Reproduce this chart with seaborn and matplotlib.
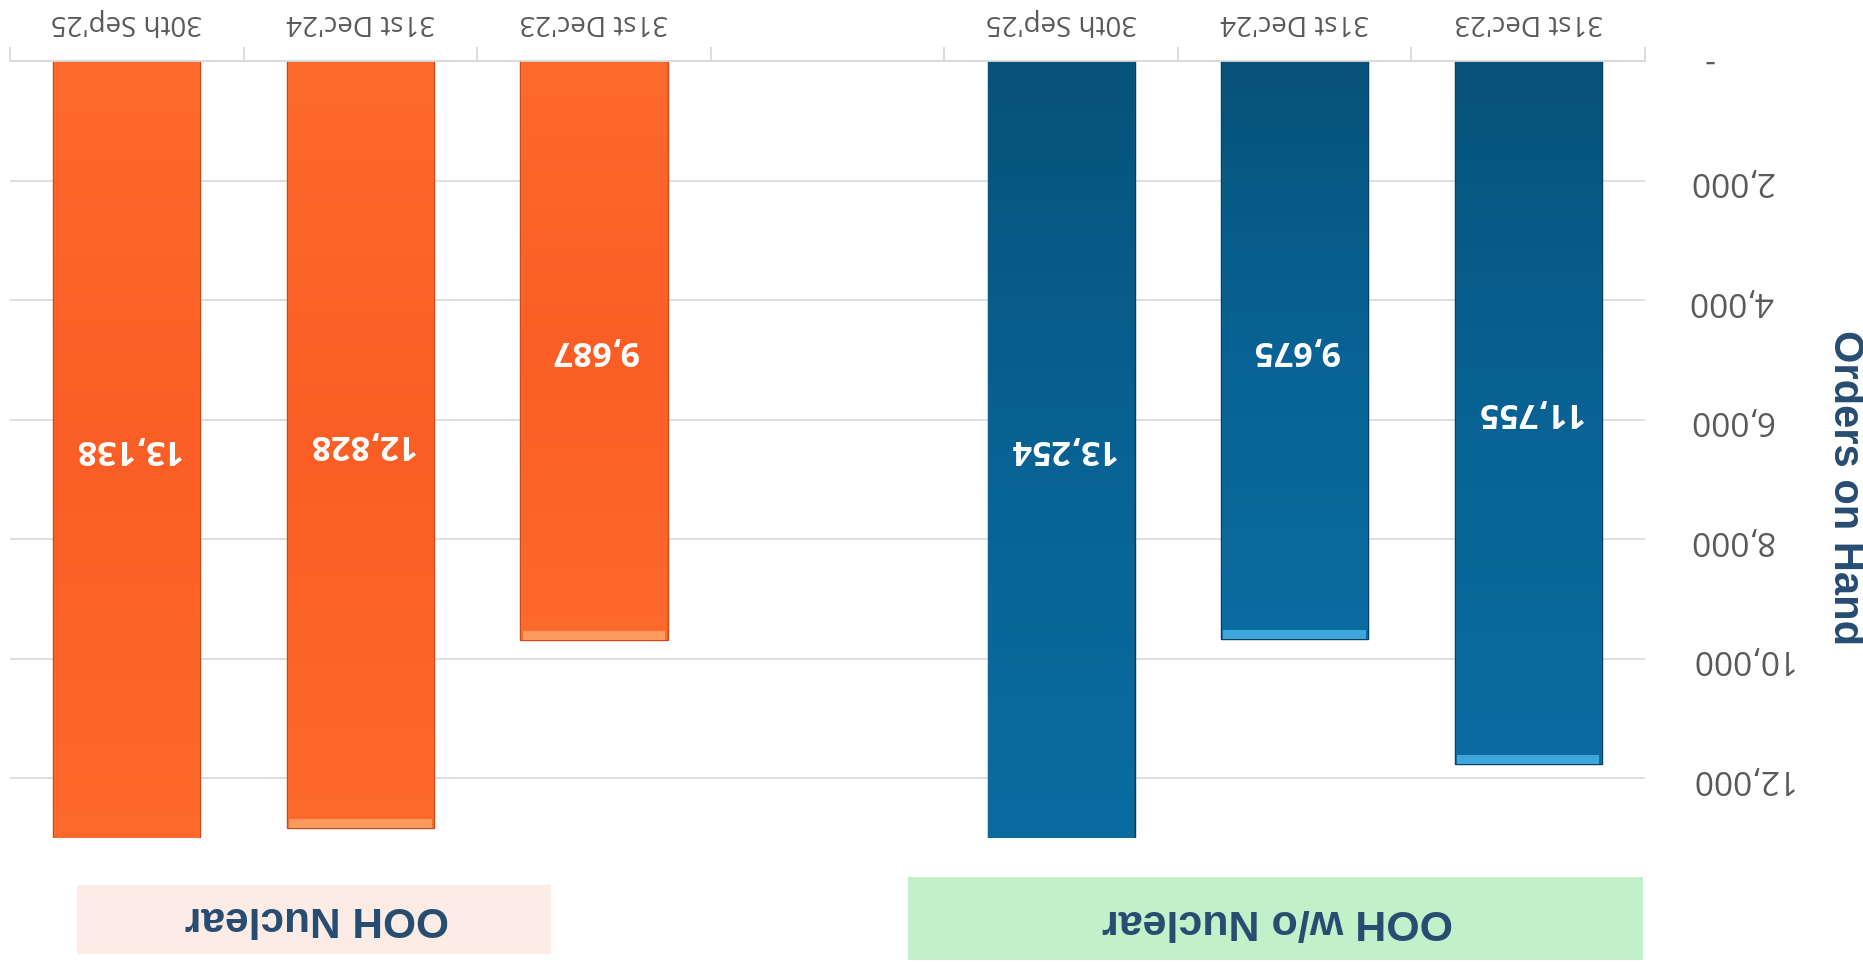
import numpy as np
import pandas as pd
import seaborn as sns
import matplotlib.pyplot as plt
from matplotlib.colors import LinearSegmentedColormap
from matplotlib.patches import Rectangle

# --- data ---
periods = ["31st Dec'23", "31st Dec'24", "30th Sep'25"]
groups = ["OOH w/o Nuclear", "OOH Nuclear"]
ooh_wo_nuclear = [11755, 9675, 13254]
ooh_nuclear = [9687, 12828, 13138]
y_ticks = [0, 2000, 4000, 6000, 8000, 10000, 12000]
y_tick_labels = ["-  ", "2,000", "4,000", "6,000", "8,000", "10,000", "12,000"]
y_max = 13000

# slot 3 stays empty as the gap between the two groups
slots = [0, 1, 2, 4, 5, 6]
df = pd.DataFrame({
    "slot": slots,
    "period": periods * 2,
    "group": [groups[0]] * 3 + [groups[1]] * 3,
    "orders": ooh_wo_nuclear + ooh_nuclear,
})

blue = "#08608e"
orange = "#fd6428"
navy = "#264c72"
grey_txt = "#595959"
grid_c = "#d9d9d9"

sns.set_style("white")
fig = plt.figure(figsize=(18.63, 9.63), dpi=100)
ax = fig.add_axes([0.0054, 0.1298, 0.8776, 0.8069])

sns.barplot(data=df, x="slot", y="orders", hue="group", order=list(range(7)),
            palette=[blue, orange], dodge=False, width=0.63, saturation=1,
            legend=False, ax=ax)

# gradient fill + bevel on each bar (the chart is drawn upside down)
cmap_b = LinearSegmentedColormap.from_list("b", ["#07527a", "#086394", "#0a6ca1"])
cmap_o = LinearSegmentedColormap.from_list("o", ["#fe6a2c", "#fb5e24", "#fe6a2b"])
for bar in list(ax.patches):
    h = bar.get_height()
    if not np.isfinite(h) or h == 0:
        continue
    x0, w = bar.get_x(), bar.get_width()
    is_blue = x0 + w / 2 < 3
    bar.set_edgecolor("#063f5e" if is_blue else "#c94a1c")
    bar.set_linewidth(1.0)
    top = min(h, y_max)
    grad = np.linspace(0, top / h, 256).reshape(-1, 1)
    ax.imshow(grad, cmap=cmap_b if is_blue else cmap_o, vmin=0, vmax=1,
              aspect="auto", extent=[x0 + 0.004, x0 + w - 0.004, top, 0],
              origin="upper", zorder=bar.get_zorder() + 0.1)
    if h < y_max:
        ax.add_patch(Rectangle((x0 + 0.01, h - 150), w - 0.02, 150,
                               facecolor="#3ea6da" if is_blue else "#ff9a5e",
                               edgecolor="none", zorder=bar.get_zorder() + 0.2))

# value labels at the middle of the visible bar
for s, v in zip(df["slot"], df["orders"]):
    ax.text(s, min(v, y_max) / 2, f"{v:,}", rotation=180, ha="center", va="center",
            color="white", fontsize=24.5, fontweight="bold", family="Open Sans",
            zorder=5)

ax.set_xlim(6.5, -0.5)
ax.set_ylim(y_max, 0)

ax.xaxis.tick_top()
ax.set_xticks(slots)
ax.set_xticklabels(periods * 2, rotation=180, fontsize=20, color=grey_txt,
                   family="Open Sans")
ax.tick_params(axis="x", which="major", length=0, pad=18)
ax.set_xticks(np.arange(-0.5, 7, 1), minor=True)
ax.tick_params(axis="x", which="minor", length=10, color=grid_c, width=1.3,
               top=True, bottom=False)

ax.yaxis.tick_right()
ax.set_yticks(y_ticks)
ax.set_yticklabels(y_tick_labels, rotation=180, fontsize=24, color=grey_txt,
                   family="Open Sans")
for lab in ax.get_yticklabels():
    lab.set_va("center")
ax.tick_params(axis="y", length=0, pad=31)

ax.grid(axis="y", color=grid_c, linewidth=1.2)
ax.set_axisbelow(True)
for side in ["left", "right", "bottom"]:
    ax.spines[side].set_visible(False)
ax.spines["top"].set_color(grid_c)
ax.spines["top"].set_linewidth(1.3)

ax.set_xlabel("")
ax.yaxis.set_label_position("right")
ax.set_ylabel("Orders on Hand", rotation=270, fontsize=30, fontweight="bold",
              color=navy, family="Liberation Sans", ha="center", va="center",
              rotation_mode="anchor")
ax.yaxis.set_label_coords(1.1223, 0.4505)

# group name boxes under the bars
fig.add_artist(Rectangle((0.4874, 0.0031), 0.3945, 0.0862, transform=fig.transFigure,
                         facecolor="#c2f0c8", edgecolor="none"))
fig.text(0.6855, 0.0436, groups[0], rotation=180, ha="center", va="center",
         fontsize=31, fontweight="bold", color=navy,
         family=["Liberation Sans Narrow", "Liberation Sans"])
fig.add_artist(Rectangle((0.0413, 0.0093), 0.2544, 0.0717, transform=fig.transFigure,
                         facecolor="#fdece5", edgecolor="none"))
fig.text(0.1702, 0.0467, groups[1], rotation=180, ha="center", va="center",
         fontsize=30.5, fontweight="bold", color=navy, family="Liberation Sans")

fig.savefig("out.png", dpi=100)
